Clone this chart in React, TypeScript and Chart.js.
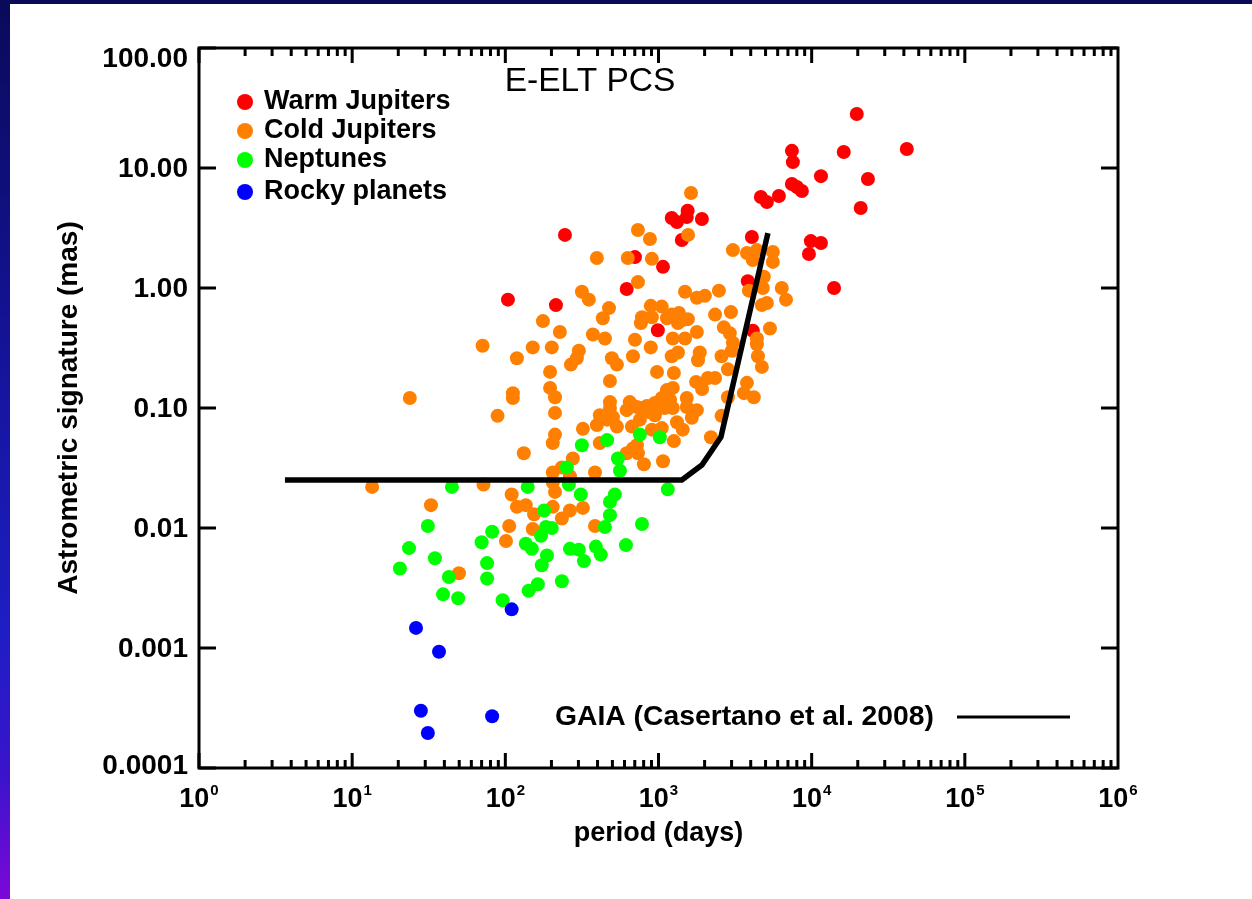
import React, { useEffect, useRef } from "react";
import { Chart, registerables } from "chart.js";

Chart.register(...registerables);

// ---- Data: [period (days), astrometric signature (mas)] ----
const warmJupiters: [number, number][] = [
  [104, 0.8], [214, 0.72], [245, 2.77], [620, 0.98], [702, 1.81], [990, 0.445],
  [1070, 1.5], [1220, 3.83], [1320, 3.55], [1550, 4.4], [1530, 3.9], [1920, 3.76],
  [1420, 2.51], [4070, 2.66], [3830, 1.14], [4130, 0.44], [4660, 5.73], [5100, 5.2],
  [6110, 5.85], [7430, 13.9], [7540, 11.2], [7430, 7.36], [8010, 6.95], [8630, 6.43],
  [11500, 8.55], [16200, 13.6], [19700, 28.2], [23300, 8.1], [20900, 4.64], [41800, 14.4],
  [9880, 2.46], [11500, 2.37], [9600, 1.92], [14000, 1.0],
];

const coldJupiters: [number, number][] = [
  [1630, 6.19], [734, 3.04], [879, 2.56], [1560, 2.77], [396, 1.78], [630, 1.78],
  [905, 1.75], [734, 1.12], [316, 0.93], [351, 0.8], [475, 0.68], [433, 0.56],
  [176, 0.53], [1490, 0.93], [1780, 0.83], [2010, 0.86], [2480, 0.95], [2340, 0.6],
  [2970, 0.63], [2670, 0.47], [890, 0.71], [1050, 0.7], [780, 0.57], [905, 0.57],
  [1220, 0.6], [1360, 0.62], [1440, 0.54], [1135, 0.56], [767, 0.51], [1340, 0.51],
  [1555, 0.55], [3060, 2.07], [3780, 1.96], [4390, 2.07], [4130, 1.71], [5580, 2.0],
  [5580, 1.65], [4870, 1.24], [4800, 1.0], [3890, 0.95], [6380, 1.0], [6800, 0.8],
  [4730, 0.72], [5100, 0.75], [5340, 0.46],
  [71, 0.33], [119, 0.26], [151, 0.32], [201, 0.32], [227, 0.43], [373, 0.41],
  [447, 0.38], [302, 0.3], [293, 0.26], [268, 0.23], [702, 0.37], [890, 0.32],
  [1240, 0.38], [1490, 0.38], [1780, 0.43], [1220, 0.27], [1340, 0.29], [681, 0.27],
  [496, 0.26], [535, 0.23], [1860, 0.29], [1810, 0.25], [2580, 0.27], [3010, 0.3],
  [3060, 0.35], [2920, 0.42], [2840, 0.21], [4390, 0.34], [4460, 0.27], [4730, 0.22],
  [196, 0.2], [196, 0.147], [211, 0.123], [112, 0.133], [112, 0.121], [482, 0.168],
  [978, 0.2], [1260, 0.196], [1760, 0.165], [1925, 0.144], [2100, 0.178], [2340, 0.178],
  [2840, 0.123], [3780, 0.162], [3610, 0.133], [4190, 0.123], [1135, 0.141], [1240, 0.147],
  [1050, 0.121], [1530, 0.121], [23.8, 0.121], [4390, 0.38],
  [1190, 0.117], [1100, 0.1], [1240, 0.1], [947, 0.11], [1530, 0.102], [1780, 0.096],
  [1650, 0.083], [1320, 0.076], [1440, 0.066], [1260, 0.053], [2200, 0.057], [2580, 0.086],
  [649, 0.112], [620, 0.096], [723, 0.102], [780, 0.1], [840, 0.104], [879, 0.092],
  [947, 0.087], [756, 0.08], [670, 0.07], [905, 0.066], [1050, 0.068], [723, 0.049],
  [620, 0.042], [681, 0.046], [734, 0.042], [803, 0.034], [1070, 0.036], [385, 0.029],
  [276, 0.038], [204, 0.029], [234, 0.032], [264, 0.027], [535, 0.07], [462, 0.08],
  [482, 0.112], [482, 0.1], [504, 0.084], [414, 0.087], [396, 0.072], [321, 0.067],
  [414, 0.051], [89, 0.086], [211, 0.091], [211, 0.06], [204, 0.051], [132, 0.042],
  [13.5, 0.022], [72, 0.023], [32.7, 0.0155], [110, 0.019], [119, 0.015], [136, 0.0155],
  [154, 0.013], [204, 0.015], [264, 0.014], [321, 0.0147], [234, 0.012], [151, 0.0098],
  [106, 0.0104], [101, 0.0078], [385, 0.0104], [49.8, 0.0042], [211, 0.02], [204, 0.024],
];

const neptunes: [number, number][] = [
  [462, 0.054], [316, 0.049], [756, 0.06], [1020, 0.057], [543, 0.038], [560, 0.03],
  [252, 0.032], [260, 0.023], [140, 0.022], [44.8, 0.022], [311, 0.019], [519, 0.019],
  [482, 0.0165], [482, 0.0128], [447, 0.0102], [179, 0.014], [184, 0.0102], [201, 0.01],
  [171, 0.0086], [82, 0.0093], [70, 0.0076], [136, 0.0074], [149, 0.0067], [264, 0.0067],
  [302, 0.0066], [326, 0.0053], [390, 0.007], [420, 0.006], [613, 0.0072], [780, 0.0108],
  [1150, 0.021], [187, 0.0059], [173, 0.0049], [76, 0.0051], [76, 0.0038], [31.2, 0.0104],
  [23.5, 0.0068], [34.7, 0.0056], [20.5, 0.0046], [42.8, 0.0039], [39.2, 0.0028], [49.2, 0.0026],
  [96, 0.0025], [142, 0.003], [163, 0.0034], [234, 0.0036],
];

const rockyPlanets: [number, number][] = [
  [26.1, 0.00147], [36.9, 0.00093], [28.1, 0.0003], [31.2, 0.000196], [82, 0.00027], [110, 0.0021],
];

// GAIA detection limit (Casertano et al. 2008)
const gaiaCurve: [number, number][] = [
  [3.64, 0.0251], [1420, 0.0251], [1920, 0.0335], [2555, 0.0573], [5180, 2.87],
];

const seriesNames = ["Warm Jupiters", "Cold Jupiters", "Neptunes", "Rocky planets"];
const seriesColors = ["#ff0000", "#ff8000", "#00ff00", "#0000ff"];
const yTickValues = [100, 10, 1, 0.1, 0.01, 0.001, 0.0001];
const yTickLabels = ["100.00", "10.00", "1.00", "0.10", "0.01", "0.001", "0.0001"];
const xTickExponents = [0, 1, 2, 3, 4, 5, 6];
const chartTitle = "E-ELT PCS";
const xTitle = "period (days)";
const yTitle = "Astrometric signature (mas)";
const gaiaLabel = "GAIA (Casertano et al. 2008)";

const FONT = "'Liberation Sans', Arial, Helvetica, sans-serif";

const toXY = (arr: [number, number][]) => arr.map(([x, y]) => ({ x, y }));

const decorPlugin = {
  id: "decor",
  afterDraw(chart: any) {
    const { ctx, chartArea, scales } = chart;
    const { left, right, top, bottom } = chartArea;
    const xs = scales.x;
    const ys = scales.y;
    ctx.save();
    ctx.strokeStyle = "#000";
    ctx.fillStyle = "#000";
    ctx.lineWidth = 3;
    ctx.lineCap = "butt";
    // frame
    ctx.strokeRect(left, top, right - left, bottom - top);
    // y ticks (inward, both sides)
    ctx.beginPath();
    for (const v of yTickValues) {
      const py = ys.getPixelForValue(v);
      ctx.moveTo(left, py);
      ctx.lineTo(left + 17, py);
      ctx.moveTo(right, py);
      ctx.lineTo(right - 17, py);
    }
    // x ticks major + minor
    for (let e = 0; e < 6; e++) {
      for (let m = 1; m <= 9; m++) {
        const v = m * Math.pow(10, e);
        const px = xs.getPixelForValue(v);
        const len = m === 1 ? 15 : 8;
        ctx.moveTo(px, bottom);
        ctx.lineTo(px, bottom - len);
        ctx.moveTo(px, top);
        ctx.lineTo(px, top + len);
      }
    }
    ctx.stroke();

    // y tick labels
    ctx.font = `bold 28px ${FONT}`;
    ctx.textAlign = "right";
    ctx.textBaseline = "middle";
    yTickValues.forEach((v, i) => {
      let py = ys.getPixelForValue(v);
      if (i === 0) py += 10;
      if (i === yTickValues.length - 1) py -= 3;
      ctx.fillText(yTickLabels[i], left - 11, py + 1);
    });

    // x tick labels 10^n
    ctx.textBaseline = "alphabetic";
    ctx.textAlign = "left";
    for (const e of xTickExponents) {
      const px = xs.getPixelForValue(Math.pow(10, e));
      ctx.font = `bold 27px ${FONT}`;
      const w1 = ctx.measureText("10").width;
      ctx.font = `bold 15px ${FONT}`;
      const sup = String(e);
      const w2 = ctx.measureText(sup).width;
      const start = px - (w1 + w2 + 1) / 2;
      ctx.font = `bold 27px ${FONT}`;
      ctx.fillText("10", start, bottom + 39);
      ctx.font = `bold 15px ${FONT}`;
      ctx.fillText(sup, start + w1 + 1, bottom + 27);
    }

    // axis titles
    ctx.font = `bold 27px ${FONT}`;
    ctx.textAlign = "center";
    ctx.textBaseline = "middle";
    ctx.fillText(xTitle, (xs.getPixelForValue(1) + xs.getPixelForValue(1e6)) / 2, bottom + 66);
    ctx.save();
    ctx.font = `bold 28px ${FONT}`;
    ctx.translate(59, (top + bottom) / 2);
    ctx.rotate(-Math.PI / 2);
    ctx.fillText(yTitle, 0, 0);
    ctx.restore();

    // chart title
    ctx.font = `33.5px ${FONT}`;
    ctx.fillText(chartTitle, 580, 78);

    // legend
    ctx.font = `bold 27px ${FONT}`;
    ctx.textAlign = "left";
    const rows = [98, 127, 156, 188];
    seriesNames.forEach((name, i) => {
      ctx.fillStyle = seriesColors[i];
      ctx.beginPath();
      ctx.arc(235, rows[i], 8, 0, Math.PI * 2);
      ctx.fill();
      ctx.fillStyle = "#000";
      ctx.fillText(name, 254, rows[i]);
    });

    // GAIA label and line sample
    ctx.font = `bold 28.3px ${FONT}`;
    ctx.fillText(gaiaLabel, 545, 713);
    ctx.lineWidth = 3;
    ctx.beginPath();
    ctx.moveTo(947, 713);
    ctx.lineTo(1060, 713);
    ctx.stroke();
    ctx.restore();
  },
};

export default function App() {
  const canvasRef = useRef<HTMLCanvasElement | null>(null);

  useEffect(() => {
    const canvas = canvasRef.current;
    if (!canvas) return;
    const series = [warmJupiters, coldJupiters, neptunes, rockyPlanets];
    const scatterSets = series.map((d, i) => ({
      type: "scatter" as const,
      label: seriesNames[i],
      data: toXY(d),
      backgroundColor: seriesColors[i],
      borderColor: seriesColors[i],
      pointRadius: 7,
      pointBorderWidth: 0,
      pointHoverRadius: 7,
      order: 4 - i,
    }));
    const chart = new Chart(canvas, {
      type: "scatter",
      data: {
        datasets: [
          ...scatterSets,
          {
            type: "line" as const,
            label: "GAIA",
            data: toXY(gaiaCurve),
            borderColor: "#000",
            backgroundColor: "#000",
            borderWidth: 5.5,
            pointRadius: 0,
            fill: false,
            tension: 0,
            borderJoinStyle: "miter",
            showLine: true,
            order: 0,
          } as any,
        ],
      },
      options: {
        responsive: false,
        animation: false,
        devicePixelRatio: 1,
        layout: { padding: { top: 44, right: 134, left: 0, bottom: 0 } },
        plugins: { legend: { display: false }, tooltip: { enabled: false } },
        events: [],
        scales: {
          x: {
            type: "logarithmic",
            min: 1,
            max: 1e6,
            position: "bottom",
            grid: { display: false },
            border: { display: false },
            ticks: { display: false },
            afterFit: (s: any) => {
              s.height = 131;
            },
          },
          y: {
            type: "logarithmic",
            min: 1e-4,
            max: 100,
            position: "left",
            grid: { display: false },
            border: { display: false },
            ticks: { display: false },
            afterBuildTicks: (s: any) => {
              s.ticks = yTickValues.map((v) => ({ value: v }));
            },
            afterFit: (s: any) => {
              s.width = 189;
            },
          },
        },
      } as any,
      plugins: [decorPlugin],
    });
    return () => chart.destroy();
  }, []);

  return (
    <div
      style={{
        position: "absolute",
        left: 0,
        top: 0,
        width: 1252,
        height: 899,
        background: "linear-gradient(180deg, #0a0a5a 0%, #14149a 40%, #1e1ec4 70%, #3a14cc 86%, #7c08d8 100%)",
        overflow: "hidden",
      }}
    >
      <div style={{ position: "absolute", left: 10, top: 4, width: 1242, height: 895, background: "#fff" }}>
        <canvas ref={canvasRef} width={1242} height={895} style={{ display: "block" }} />
      </div>
    </div>
  );
}
